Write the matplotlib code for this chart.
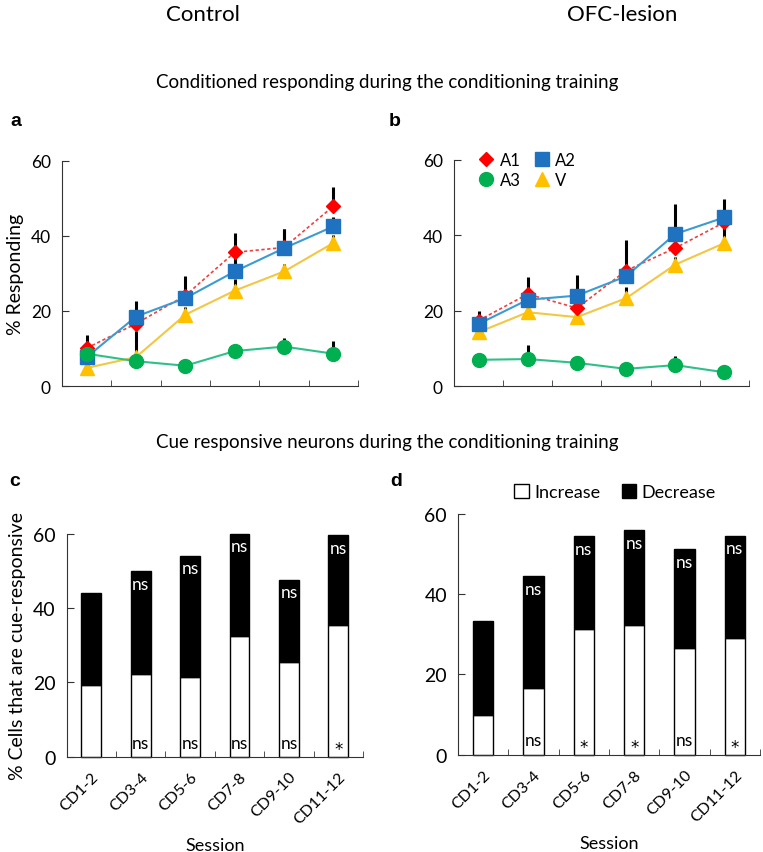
import matplotlib
matplotlib.use("Agg")
import matplotlib.pyplot as plt
from matplotlib.lines import Line2D
from matplotlib.patches import Patch
import numpy as np

plt.rcParams['font.family'] = ['Lato', 'DejaVu Sans']

# dados - respondendo (%)
sessoes = ['CD1-2', 'CD3-4', 'CD5-6', 'CD7-8', 'CD9-10', 'CD11-12']

ctrl_a1 = [10.1, 16.6, 24.1, 35.6, 36.9, 47.9]
ctrl_a2 = [7.7, 18.5, 23.4, 30.5, 36.7, 42.5]
ctrl_a3 = [8.6, 6.6, 5.4, 9.3, 10.5, 8.6]
ctrl_v = [4.8, 7.7, 19.0, 25.4, 30.5, 38.1]
ctrl_a1_err = [3.4, 3.0, 5.3, 5.1, 4.9, 5.2]
ctrl_a2_err = [2.0, 4.1, 3.0, 4.0, 5.0, 2.5]
ctrl_a3_err = [1.0, 1.0, 1.9, 0.5, 2.4, 3.4]
ctrl_v_err = [2.0, 7.0, 2.0, 3.0, 2.0, 2.0]

ofc_a1 = [17.4, 24.4, 20.7, 30.6, 36.6, 43.4]
ofc_a2 = [16.5, 22.9, 24.0, 29.1, 40.3, 44.7]
ofc_a3 = [7.0, 7.2, 6.2, 4.6, 5.6, 3.7]
ofc_v = [14.3, 19.6, 18.3, 23.3, 32.2, 37.9]
ofc_a1_err = [2.4, 4.6, 2.0, 8.2, 2.0, 2.0]
ofc_a2_err = [2.0, 2.0, 5.5, 3.0, 8.0, 5.0]
ofc_a3_err = [0.5, 3.7, 0.5, 0.5, 2.5, 0.5]
ofc_v_err = [1.5, 2.0, 2.0, 3.0, 2.0, 4.0]

# celulas responsivas (%)
ctrl_inc = [19.4, 22.3, 21.4, 32.5, 25.4, 35.6]
ctrl_tot = [44.0, 49.9, 54.2, 60.1, 47.6, 59.6]
ofc_inc = [9.9, 16.5, 31.3, 32.4, 26.7, 29.0]
ofc_tot = [33.3, 44.5, 54.4, 55.9, 51.2, 54.6]

ctrl_sig_top = ['', 'ns', 'ns', 'ns', 'ns', 'ns']
ctrl_sig_bot = ['', 'ns', 'ns', 'ns', 'ns', '*']
ofc_sig_top = ['', 'ns', 'ns', 'ns', 'ns', 'ns']
ofc_sig_bot = ['', 'ns', '*', '*', 'ns', '*']

x = np.arange(len(sessoes))

fig = plt.figure(figsize=(7.63, 8.53), dpi=100)

fig.text(0.266, 0.983, 'Control', ha='center', va='center', fontsize=16)
fig.text(0.815, 0.983, 'OFC-lesion', ha='center', va='center', fontsize=16)
fig.text(0.508, 0.903, 'Conditioned responding during the conditioning training',
         ha='center', va='center', fontsize=13.5)
fig.text(0.508, 0.481, 'Cue responsive neurons during the conditioning training',
         ha='center', va='center', fontsize=13.5)
for lab, px, py in [('a', 0.014, 0.857), ('b', 0.51, 0.857),
                    ('c', 0.012, 0.436), ('d', 0.512, 0.436)]:
    fig.text(px, py, lab, fontsize=14, fontweight='bold',
             family='Liberation Sans', ha='left', va='center')


def estilo_eixo(ax, rotulos=False):
    ax.spines['top'].set_visible(False)
    ax.spines['right'].set_visible(False)
    ax.set_xlim(-0.5, 5.5)
    ax.set_ylim(0, 60)
    ax.set_yticks([0, 20, 40, 60])
    ax.tick_params(axis='y', direction='in', length=5, pad=8, labelsize=12.5, color='#333333')
    ax.set_xticks(np.arange(-0.5, 6.0, 1.0), minor=True)
    ax.tick_params(axis='x', which='minor', direction='in', length=4, color='#333333')
    ax.set_xticks(x)
    ax.tick_params(axis='x', which='major', length=0)
    for s in ['left', 'bottom']:
        ax.spines[s].set_color('#333333')
    if rotulos:
        ax.set_xticklabels(sessoes, rotation=45, ha='right', rotation_mode='anchor', fontsize=11.5)
        ax.tick_params(axis='x', which='major', pad=9)
    else:
        ax.set_xticklabels([])


def linhas(ax, a1, a2, a3, v, e1, e2, e3, ev):
    # barras de erro (so para cima)
    for serie, err in [(v, ev), (a1, e1), (a2, e2), (a3, e3)]:
        ax.errorbar(x, serie, yerr=[np.zeros(6), err], fmt='none', ecolor='black',
                    elinewidth=2.2, capsize=0, zorder=1)
    ax.plot(x, v, color='#F2C744', lw=1.5, marker='^', ms=10, mfc='#FFC000', mec='#FFC000', zorder=2)
    ax.plot(x, a1, color='#F04040', lw=1.2, ls=(0, (2, 1.5)), marker='D', ms=7,
            mfc='#FF0000', mec='#FF0000', zorder=3)
    ax.plot(x, a2, color='#3C9BD2', lw=1.5, marker='s', ms=10, mfc='#1E72C0', mec='#1E72C0', zorder=4)
    ax.plot(x, a3, color='#2FC08A', lw=1.5, marker='o', ms=10, mfc='#00B050', mec='#00B050', zorder=5)


ax_a = fig.add_axes([0.0813, 0.5463, 0.388, 0.2641])
estilo_eixo(ax_a)
linhas(ax_a, ctrl_a1, ctrl_a2, ctrl_a3, ctrl_v, ctrl_a1_err, ctrl_a2_err, ctrl_a3_err, ctrl_v_err)
ax_a.set_ylabel('% Responding', fontsize=14, labelpad=5)

ax_b = fig.add_axes([0.595, 0.546, 0.3866, 0.2657])
estilo_eixo(ax_b)
linhas(ax_b, ofc_a1, ofc_a2, ofc_a3, ofc_v, ofc_a1_err, ofc_a2_err, ofc_a3_err, ofc_v_err)

handles = [
    Line2D([], [], ls='none', marker='D', ms=7, color='#FF0000'),
    Line2D([], [], ls='none', marker='o', ms=10, color='#00B050'),
    Line2D([], [], ls='none', marker='s', ms=10, color='#1E72C0'),
    Line2D([], [], ls='none', marker='^', ms=10, color='#FFC000'),
]
ax_b.legend(handles, ['A1', 'A3', 'A2', 'V'], ncol=2, loc='upper left',
            bbox_to_anchor=(0.03, 1.1), frameon=False, fontsize=12,
            handlelength=1.0, handletextpad=0.3, columnspacing=0.8, labelspacing=0.25)


def barras(ax, inc, tot, sig_top, sig_bot):
    dec = np.array(tot) - np.array(inc)
    ax.bar(x, inc, width=0.4, color='white', edgecolor='black', lw=1, clip_on=False, zorder=2)
    ax.bar(x, dec, width=0.4, bottom=inc, color='black', edgecolor='black', lw=1,
           clip_on=False, zorder=2)
    for i in range(len(x)):
        if sig_top[i]:
            ax.text(x[i], tot[i] - 1.2, sig_top[i], ha='center', va='top', color='white',
                    fontsize=12.5, zorder=3)
        if sig_bot[i] == '*':
            ax.text(x[i], 2.0, '*', ha='center', va='center', color='black',
                    fontsize=12, family='DejaVu Sans', zorder=3)
        elif sig_bot[i]:
            ax.text(x[i], 3.6, sig_bot[i], ha='center', va='center', color='black',
                    fontsize=12.5, zorder=3)


ax_c = fig.add_axes([0.0874, 0.1117, 0.3883, 0.2611])
estilo_eixo(ax_c, rotulos=True)
barras(ax_c, ctrl_inc, ctrl_tot, ctrl_sig_top, ctrl_sig_bot)
ax_c.set_ylabel('% Cells that are cue-responsive', fontsize=14, labelpad=5)
ax_c.set_xlabel('Session', fontsize=13, labelpad=8)
ax_c.tick_params(axis='y', labelsize=14)

ax_d = fig.add_axes([0.6003, 0.1141, 0.3958, 0.2822])
estilo_eixo(ax_d, rotulos=True)
barras(ax_d, ofc_inc, ofc_tot, ofc_sig_top, ofc_sig_bot)
ax_d.set_xlabel('Session', fontsize=13, labelpad=8)
ax_d.tick_params(axis='y', labelsize=14)
leg_handles = [Patch(facecolor='white', edgecolor='black', lw=1),
               Patch(facecolor='black', edgecolor='black', lw=1)]
ax_d.legend(leg_handles, ['Increase', 'Decrease'], ncol=2, loc='center',
            bbox_to_anchor=(0.52, 1.09), frameon=False, fontsize=13,
            handlelength=0.8, handleheight=0.8, handletextpad=0.3, columnspacing=1.2)

fig.savefig('out.png', dpi=100)
